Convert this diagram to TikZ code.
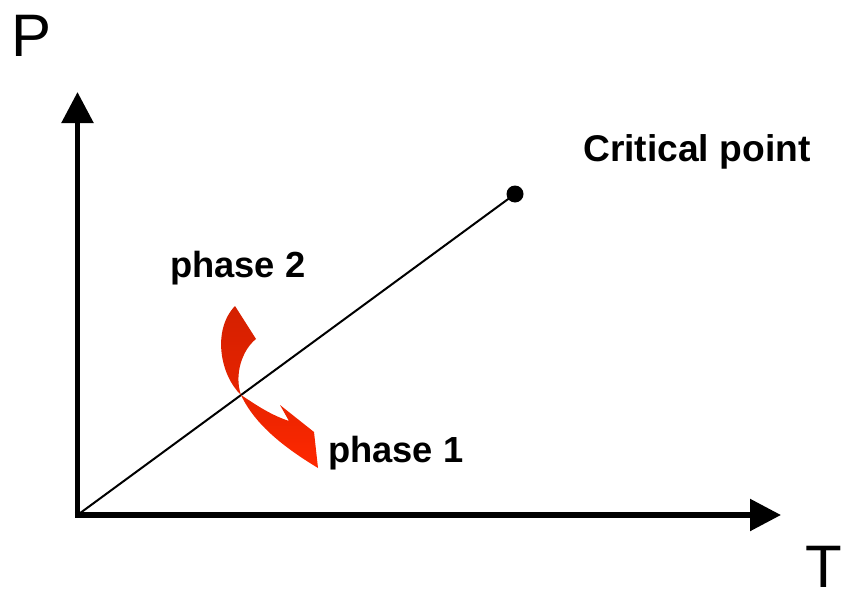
\documentclass[tikz,border=0pt]{standalone}
\usepackage{fontspec}
\setmainfont{Liberation Sans}
\usetikzlibrary{arrows.meta}
\definecolor{darkred}{RGB}{212,32,0}
\definecolor{brightred}{RGB}{255,40,0}
\tikzset{
  axis/.style={line width=5.5pt,-{Triangle[length=31pt,width=31pt]}},
  lbl/.style={font=\bfseries\fontsize{36.3}{40}\selectfont,inner sep=0pt,anchor=base west},
  axlbl/.style={font=\fontsize{60}{66}\selectfont,inner sep=0pt,anchor=base west},
}
\begin{document}
\begin{tikzpicture}[x=1pt,y=-1pt]
\useasboundingbox (0,0) rectangle (846,594);
\coordinate (O) at (77.5,515);
\coordinate (Ocorner) at (74.75,515);
\coordinate (Ybot) at (77.5,517.75);
\coordinate (Ytip) at (77.5,92);
\coordinate (Xtip) at (781,515);
\draw[axis] (Ybot) -- (Ytip);
\draw[axis] (Ocorner) -- (Xtip);
\node[circle,fill=black,inner sep=0pt,minimum size=17pt] (cp) at (515,194) {};
\draw[line width=2pt] (O) -- (cp.center);
\node[axlbl] (P) at (11,57) {P};
\node[axlbl] (T) at (805,587) {T};
\node[lbl,font=\bfseries\fontsize{37.2}{40}\selectfont] (crit) at (583,161) {Critical point};
\node[lbl] (ph2) at (170,277) {phase 2};
\node[lbl] (ph1) at (328,462) {phase 1};
\shade[top color=darkred,bottom color=brightred,middle color=darkred!60!brightred]
  (235,306) -- (256,339)
  .. controls (242,350) and (234,375) .. (241,395)
  .. controls (252,402) and (268,414) .. (289,421)
  -- (280,405) -- (314,432) -- (318,468)
  .. controls (285,448) and (255,425) .. (241,395)
  .. controls (220,375) and (212,330) .. (235,306) -- cycle;
\end{tikzpicture}
\end{document}
